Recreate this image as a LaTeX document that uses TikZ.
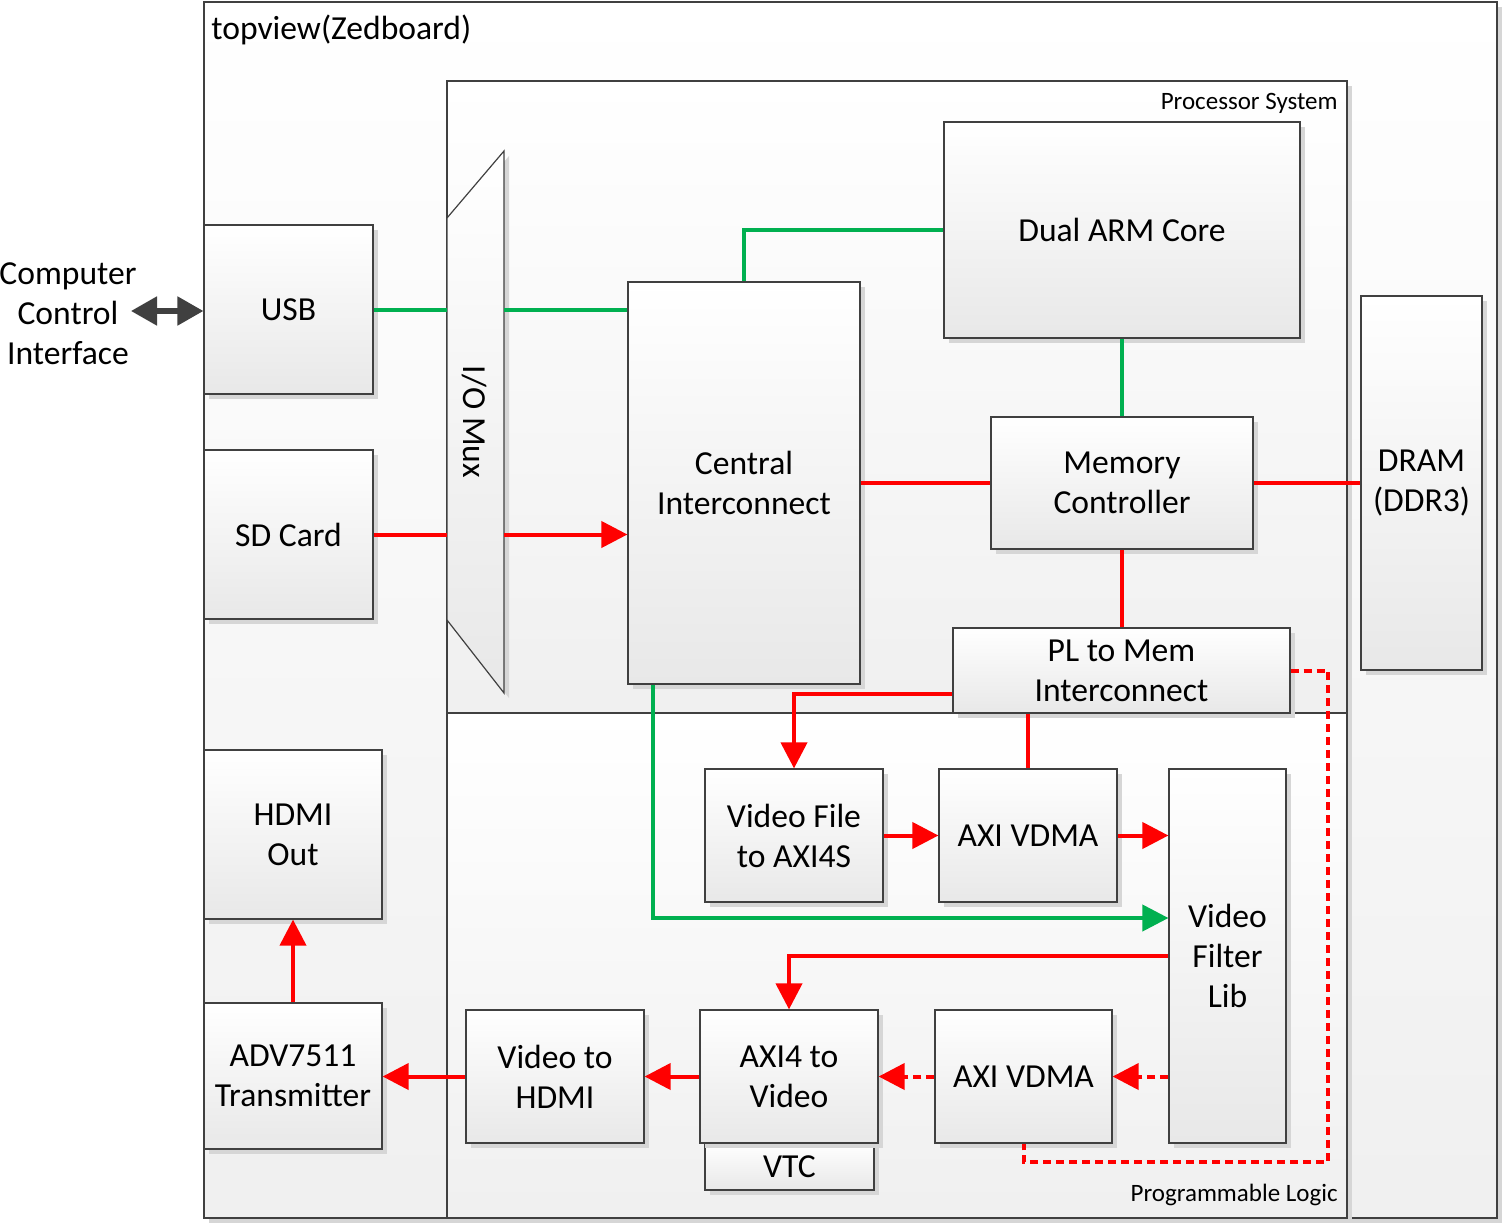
\documentclass[tikz,border=0pt]{standalone}
\usepackage{fontspec}
\setmainfont{Carlito}
\usetikzlibrary{shadows,arrows.meta}
\definecolor{busgreen}{HTML}{00B050}
\definecolor{busred}{HTML}{FF0000}
\definecolor{edge}{HTML}{404040}

\begin{document}
\begin{tikzpicture}[x=0.5pt,y=-0.5pt,
  every node/.style={inner sep=0pt, align=center, font=\fontsize{16.8}{20}\selectfont},
  shade/.style={drop shadow={shadow xshift=2.5pt, shadow yshift=-2.5pt, fill=black!16, opacity=1}},
  area/.style={draw=edge, line width=0.6pt, top color=white, bottom color=black!6, shade},
  blk/.style={draw=edge, line width=0.6pt, top color=white, bottom color=black!9, shade},
  redline/.style={draw=busred, line width=2pt},
  grnline/.style={draw=busgreen, line width=2pt},
  dashred/.style={redline, dash pattern=on 4pt off 2.5pt},
  tip/.style={-{Triangle[length=13pt,width=13pt]}},
  small/.style={font=\fontsize{12.5}{14}\selectfont},
]
\useasboundingbox (0,0) rectangle (1503,1225);

% containers
\draw[area] (204,2) rectangle (1497,1218);
\node[anchor=west] (board) at (211,30) {topview(Zedboard)};
\draw[area] (447,81) rectangle (1347,713);
\node[small, anchor=east] (pslbl) at (1338,103) {Processor System};
\draw[area] (447,713) rectangle (1347,1218);
\node[small, anchor=east] (pllbl) at (1338,1195) {Programmable Logic};

% I/O mux
\draw[blk] (447,218) -- (504,151) -- (504,693) -- (447,620) -- cycle;
\coordinate (muxl) at (447,0);
\coordinate (muxr) at (504,0);
\node[rotate=-90] (mux) at (474,422) {I/O Mux};

% blocks
\node[blk, minimum width=84.5pt, minimum height=84.5pt] (usb) at (288.5,309.5) {USB};
\node[blk, minimum width=84.5pt, minimum height=84.5pt] (sd) at (288.5,534.5) {SD Card};
\node[blk, minimum width=89pt, minimum height=84.5pt] (hdmi) at (293,834.5) {HDMI\\Out};
\node[blk, minimum width=89pt, minimum height=73pt] (adv) at (293,1076) {ADV7511\\Transmitter};
\node[blk, minimum width=89pt, minimum height=66.5pt] (v2h) at (555,1076.5) {Video to\\HDMI};
\node[blk, minimum width=84.5pt, minimum height=23.5pt] (vtc) at (789.5,1166.5) {VTC};
\node[blk, minimum width=89pt, minimum height=66.5pt] (a2v) at (789,1076.5) {AXI4 to\\Video};
\node[blk, minimum width=88.5pt, minimum height=66.5pt] (vdmab) at (1023.5,1076.5) {AXI VDMA};
\node[blk, minimum width=58.5pt, minimum height=187pt] (vfl) at (1227.5,956) {Video\\Filter\\Lib};
\node[blk, minimum width=89pt, minimum height=66.5pt] (vfile) at (794,835.5) {Video File\\to AXI4S};
\node[blk, minimum width=89pt, minimum height=66.5pt] (vdmaa) at (1028,835.5) {AXI VDMA};
\node[blk, minimum width=168.5pt, minimum height=42.5pt] (plm) at (1121.5,670.5) {PL to Mem\\Interconnect};
\node[blk, minimum width=131pt, minimum height=66pt] (mc) at (1122,483) {Memory\\Controller};
\node[blk, minimum width=178pt, minimum height=108pt] (arm) at (1122,230) {Dual ARM Core};
\node[blk, minimum width=116pt, minimum height=201pt] (ci) at (744,483) {Central\\Interconnect};
\node[blk, minimum width=60.5pt, minimum height=187pt] (dram) at (1421.5,483) {DRAM\\(DDR3)};

% host link
\node (host) at (68,314) {Computer\\Control\\Interface};
\coordinate (hostend) at (131,311);
\draw[edge, line width=2.6pt, {Triangle[length=13pt,width=14pt]}-{Triangle[length=13pt,width=14pt]}] (hostend) -- (usb.west |- hostend);

% processor side
\draw[grnline] (usb.east) -- (usb.east -| muxl);
\draw[grnline] (usb.east -| muxr) -- (usb.east -| ci.west);
\draw[grnline] (ci.north) |- (arm.west);
\draw[grnline] (arm.south) -- (mc.north);
\draw[redline] (sd.east) -- (sd.east -| muxl);
\draw[redline, tip] (sd.east -| muxr) -- (sd.east -| ci.west);
\draw[redline] (ci.east) -- (mc.west);
\draw[redline] (mc.east) -- (dram.west);
\draw[redline] (mc.south) -- (mc.south |- plm.north);

% logic side
\draw[redline, tip] ([yshift=-11.75pt]plm.west) -| (vfile.north);
\draw[redline] (vdmaa.north |- plm.south) -- (vdmaa.north);
\draw[redline, tip] (vfile.east) -- (vdmaa.west);
\draw[redline, tip] (vdmaa.east) -- (vfl.west |- vdmaa.east);
\draw[grnline, tip] ([xshift=13pt]ci.south west) |- ([yshift=19pt]vfl.west);
\draw[redline, tip] (vfl.west) -| (a2v.north);
\draw[dashred, tip] (vfl.west |- vdmab.east) -- (vdmab.east);
\draw[dashred, tip] (vdmab.west) -- (a2v.east);
\draw[redline, tip] (a2v.west) -- (v2h.east);
\draw[redline, tip] (v2h.west) -- (adv.east |- v2h.west);
\draw[redline, tip] (adv.north) -- (hdmi.south);
\coordinate (loop) at (1328,1162);
\draw[dashred] (plm.east) -| (loop) -| (vdmab.south);
\end{tikzpicture}
\end{document}
